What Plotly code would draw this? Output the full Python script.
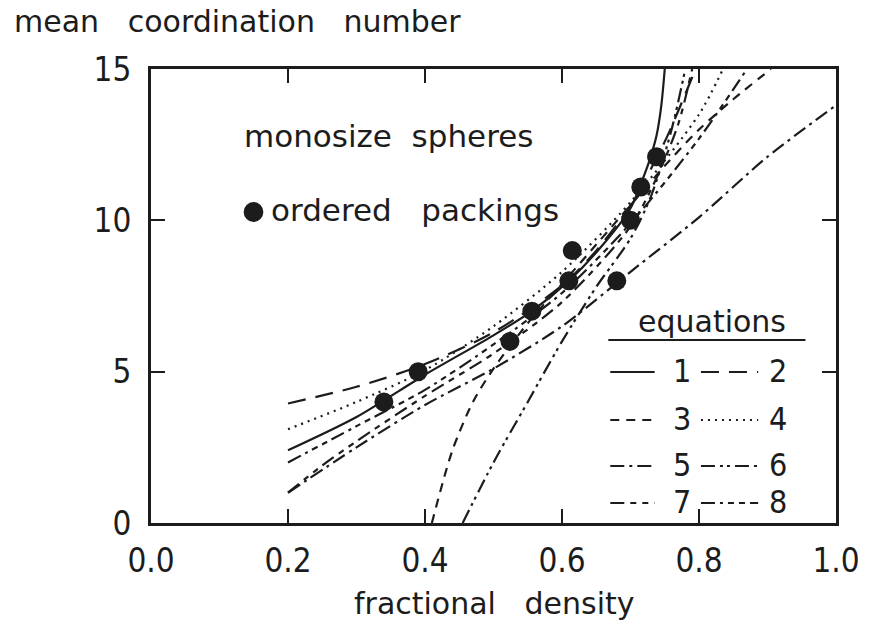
import plotly.graph_objects as go

# ordered packings of monosize spheres
packing_density = [0.34, 0.39, 0.524, 0.556, 0.61, 0.615, 0.68, 0.70, 0.715, 0.738]
packing_coord = [4, 5, 6, 7, 8, 9, 8, 10, 11.1, 12.1]

# equation curves (fractional density, mean coordination number)
eq1_x = [0.2, 0.3, 0.4, 0.5, 0.556, 0.61, 0.66, 0.70, 0.715, 0.728, 0.738, 0.745, 0.75]
eq1_y = [2.4, 3.5, 4.9, 6.2, 7.0, 8.0, 9.2, 10.4, 11.2, 12.0, 12.8, 13.8, 15.0]

eq2_x = [0.2, 0.3, 0.4, 0.5, 0.6, 0.65, 0.7, 0.75, 0.775, 0.795]
eq2_y = [3.95, 4.5, 5.25, 6.3, 7.85, 9.0, 10.5, 12.6, 13.9, 15.0]

eq3_x = [0.41, 0.44, 0.47, 0.5, 0.55, 0.6, 0.65, 0.7, 0.75, 0.8, 0.85, 0.905]
eq3_y = [0.0, 2.4, 4.0, 5.1, 6.6, 7.9, 9.2, 10.5, 11.8, 13.0, 14.0, 15.0]

eq4_x = [0.2, 0.3, 0.4, 0.5, 0.6, 0.7, 0.8, 0.835]
eq4_y = [3.1, 4.0, 5.05, 6.5, 8.3, 10.6, 13.5, 15.0]

eq5_x = [0.2, 0.3, 0.4, 0.5, 0.6, 0.7, 0.8, 0.9, 1.0]
eq5_y = [1.0, 2.5, 3.9, 5.1, 6.5, 8.3, 10.1, 12.1, 13.8]

eq6_x = [0.455, 0.5, 0.55, 0.6, 0.65, 0.7, 0.73, 0.76, 0.78]
eq6_y = [0.0, 2.0, 4.0, 6.0, 7.8, 9.4, 10.8, 13.0, 15.0]

eq7_x = [0.2, 0.25, 0.3, 0.4, 0.5, 0.6, 0.7, 0.74, 0.77, 0.79]
eq7_y = [1.0, 1.9, 2.7, 4.2, 5.6, 7.3, 9.8, 11.5, 13.2, 15.0]

eq8_x = [0.2, 0.3, 0.4, 0.5, 0.6, 0.7, 0.8, 0.87]
eq8_y = [2.0, 3.2, 4.4, 5.9, 7.6, 9.9, 12.7, 15.0]

x_ticks = [0.0, 0.2, 0.4, 0.6, 0.8, 1.0]
x_tick_text = ["0.0", "0.2", "0.4", "0.6", "0.8", "1.0"]
y_ticks = [0, 5, 10, 15]
y_tick_text = ["0", "5", "10", "15"]

equation_labels = ["1", "2", "3", "4", "5", "6", "7", "8"]
equation_dash = [
    "solid",
    "18px,10px",
    "9px,7px",
    "2px,5px",
    "14px,5px,3px,5px",
    "14px,5px,3px,4px,3px,5px",
    "14px,6px,6px,6px,6px,6px",
    "14px,5px,3px,5px,6px,5px,6px,5px",
]
curves = [
    (eq1_x, eq1_y), (eq2_x, eq2_y), (eq3_x, eq3_y), (eq4_x, eq4_y),
    (eq5_x, eq5_y), (eq6_x, eq6_y), (eq7_x, eq7_y), (eq8_x, eq8_y),
]

INK = "#1c1c1c"
FONT = "DejaVu Sans, sans-serif"
NUM_FONT = "DejaVu Sans Condensed, DejaVu Sans, sans-serif"
NB = "\u00a0"

W_FIG, H_FIG = 872, 632
L, R, T, B = 151, 26, 69, 109
PW = W_FIG - L - R
PH = H_FIG - T - B


def px(xp):
    return (xp - L) / PW


def py(yp):
    return (H_FIG - B - yp) / PH


fig = go.Figure()

for (cx, cy), dash, lab in zip(curves, equation_dash, equation_labels):
    fig.add_trace(go.Scatter(
        x=cx, y=cy, mode="lines", name=lab, showlegend=False,
        line=dict(color=INK, width=2.2, dash=dash, shape="spline", smoothing=0.8),
        cliponaxis=True,
    ))

fig.add_trace(go.Scatter(
    x=packing_density, y=packing_coord, mode="markers", showlegend=False,
    marker=dict(color=INK, size=19, line=dict(width=0)),
))

gap3 = NB * 3
gap2 = NB * 2
annotations = [
    dict(text=f"mean{gap3}coordination{gap3}number", x=px(10), y=py(21), xanchor="left",
         yanchor="middle", font=dict(size=30, family=FONT)),
    dict(text=f"fractional{gap3}density", x=px(500), y=py(603), xanchor="center",
         yanchor="middle", font=dict(size=30, family=FONT)),
    dict(text=f"monosize{gap2}spheres", x=px(243), y=py(136), xanchor="left",
         yanchor="middle", font=dict(size=31, family=FONT)),
    dict(text=f"ordered{gap3}packings", x=px(271), y=py(210), xanchor="left",
         yanchor="middle", font=dict(size=31, family=FONT)),
    dict(text="equations", x=px(720), y=py(321), xanchor="center",
         yanchor="middle", font=dict(size=30, family=FONT)),
]

shapes = [
    # key symbol for the packing markers
    dict(type="circle", xref="paper", yref="paper", x0=px(245), x1=px(265),
         y0=py(222), y1=py(202), fillcolor=INK, line=dict(width=0)),
    # underline of the equations heading
    dict(type="line", xref="paper", yref="paper", x0=px(615), x1=px(815),
         y0=py(340), y1=py(340), line=dict(color=INK, width=2)),
]

row_y = [372, 420, 466, 503]
col_seg = [(617, 662), (709, 767)]
col_num = [690, 787]
for i, (dash, lab) in enumerate(zip(equation_dash, equation_labels)):
    r, c = divmod(i, 2)
    yy = row_y[r]
    x0, x1 = col_seg[c]
    shapes.append(dict(type="line", xref="paper", yref="paper",
                       x0=px(x0), x1=px(x1), y0=py(yy), y1=py(yy),
                       line=dict(color=INK, width=2, dash=dash)))
    annotations.append(dict(text=lab, x=px(col_num[c]), y=py(yy - 1),
                            xanchor="center", yanchor="middle",
                            font=dict(size=32, family=NUM_FONT)))

for a in annotations:
    a.update(xref="paper", yref="paper", showarrow=False)

axis_common = dict(
    showline=True, linecolor=INK, linewidth=3, mirror="ticks",
    ticks="inside", ticklen=14, tickwidth=2, tickcolor=INK,
    showgrid=False, zeroline=False,
    tickfont=dict(size=33, color=INK, family=NUM_FONT),
)

fig.update_layout(
    width=W_FIG, height=H_FIG,
    margin=dict(l=L, r=R, t=T, b=B),
    paper_bgcolor="white", plot_bgcolor="white",
    font=dict(family=FONT, color=INK, size=30),
    xaxis=dict(range=[0, 1.0], tickvals=x_ticks, ticktext=x_tick_text,
               ticklabelstandoff=6, **axis_common),
    yaxis=dict(range=[0, 15], tickvals=y_ticks, ticktext=y_tick_text,
               ticklabelstandoff=10, **axis_common),
    annotations=annotations,
    shapes=shapes,
    showlegend=False,
)

fig.write_html("out.html")
